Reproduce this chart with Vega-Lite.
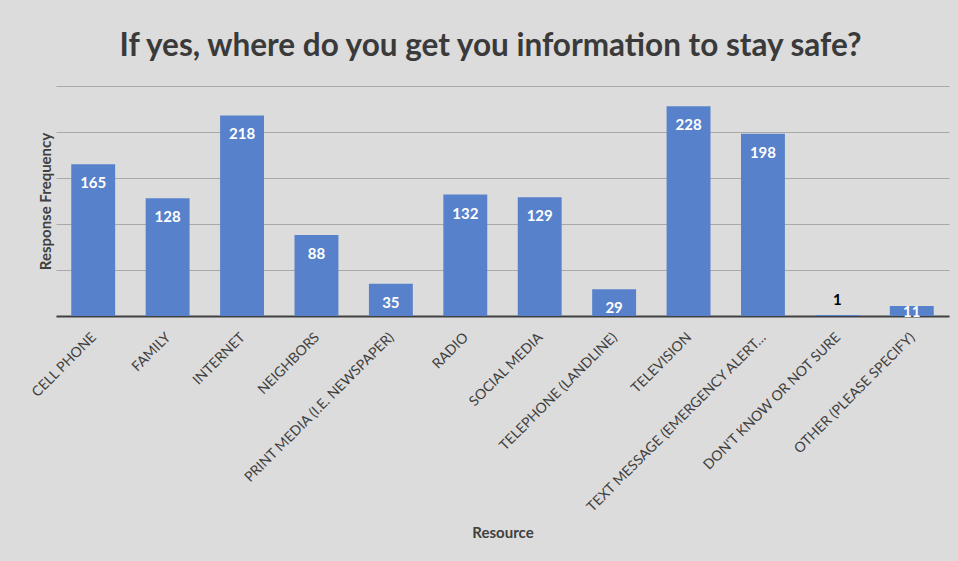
{
  "$schema": "https://vega.github.io/schema/vega-lite/v6.json",
  "autosize": {"type": "none"},
  "width": 893,
  "height": 230,
  "padding": {"left": 56, "top": 86, "right": 9, "bottom": 245},
  "background": "#dcdcdc",
  "config": {
    "view": {"stroke": null},
    "font": "Lato"
  },
  "title": {
    "text": "If yes, where do you get you information to stay safe?",
    "font": "Lato",
    "fontSize": 31.5,
    "fontWeight": "bold",
    "color": "#3a3a3a",
    "anchor": "middle",
    "offset": 24,
    "dx": -12
  },
  "data": {
    "values": [
      {"Resource": "CELL PHONE", "Frequency": 165},
      {"Resource": "FAMILY", "Frequency": 128},
      {"Resource": "INTERNET", "Frequency": 218},
      {"Resource": "NEIGHBORS", "Frequency": 88},
      {"Resource": "PRINT MEDIA (I.E. NEWSPAPER)", "Frequency": 35},
      {"Resource": "RADIO", "Frequency": 132},
      {"Resource": "SOCIAL MEDIA", "Frequency": 129},
      {"Resource": "TELEPHONE (LANDLINE)", "Frequency": 29},
      {"Resource": "TELEVISION", "Frequency": 228},
      {"Resource": "TEXT MESSAGE (EMERGENCY ALERT…", "Frequency": 198},
      {"Resource": "DON'T KNOW OR NOT SURE", "Frequency": 1},
      {"Resource": "OTHER (PLEASE SPECIFY)", "Frequency": 11}
    ]
  },
  "encoding": {
    "x": {
      "field": "Resource",
      "type": "nominal",
      "sort": null,
      "scale": {"paddingInner": 0.41, "paddingOuter": 0.205},
      "axis": {
        "title": "Resource",
        "titleFont": "Lato",
        "titleFontSize": 15,
        "titleFontWeight": "bold",
        "titleColor": "#404040",
        "titlePadding": 10,
        "labelAngle": -45,
        "labelFont": "Lato",
        "labelFontSize": 14,
        "labelColor": "#404040",
        "labelPadding": 14,
        "labelOffset": -4,
        "labelLimit": 400,
        "ticks": false,
        "domainColor": "#404040",
        "domainWidth": 2
      }
    },
    "y": {
      "field": "Frequency",
      "type": "quantitative",
      "scale": {"domain": [0, 250], "nice": false},
      "axis": {
        "title": "Response Frequency",
        "titleFont": "Lato",
        "titleFontSize": 15,
        "titleFontWeight": "bold",
        "titleColor": "#404040",
        "titlePadding": 3,
        "values": [0, 50, 100, 150, 200, 250],
        "labels": false,
        "ticks": false,
        "domain": false,
        "grid": true,
        "gridColor": "#a9a9a9",
        "gridWidth": 1
      }
    }
  },
  "layer": [
    {"mark": {"type": "bar", "color": "#5881cc"}},
    {
      "transform": [{"filter": "datum.Frequency >= 20"}],
      "mark": {"type": "text", "color": "white", "fontWeight": "bold", "fontSize": 15, "font": "Lato", "baseline": "middle", "dy": 19},
      "encoding": {"text": {"field": "Frequency", "type": "quantitative"}}
    },
    {
      "transform": [{"filter": "datum.Frequency >= 5 && datum.Frequency < 20"}],
      "mark": {"type": "text", "color": "white", "fontWeight": "bold", "fontSize": 15, "font": "Lato", "baseline": "middle", "dy": 6},
      "encoding": {"text": {"field": "Frequency", "type": "quantitative"}}
    },
    {
      "transform": [{"filter": "datum.Frequency < 5"}],
      "mark": {"type": "text", "color": "black", "fontWeight": "bold", "fontSize": 15, "font": "Lato", "baseline": "middle", "dy": -15},
      "encoding": {"text": {"field": "Frequency", "type": "quantitative"}}
    }
  ]
}
